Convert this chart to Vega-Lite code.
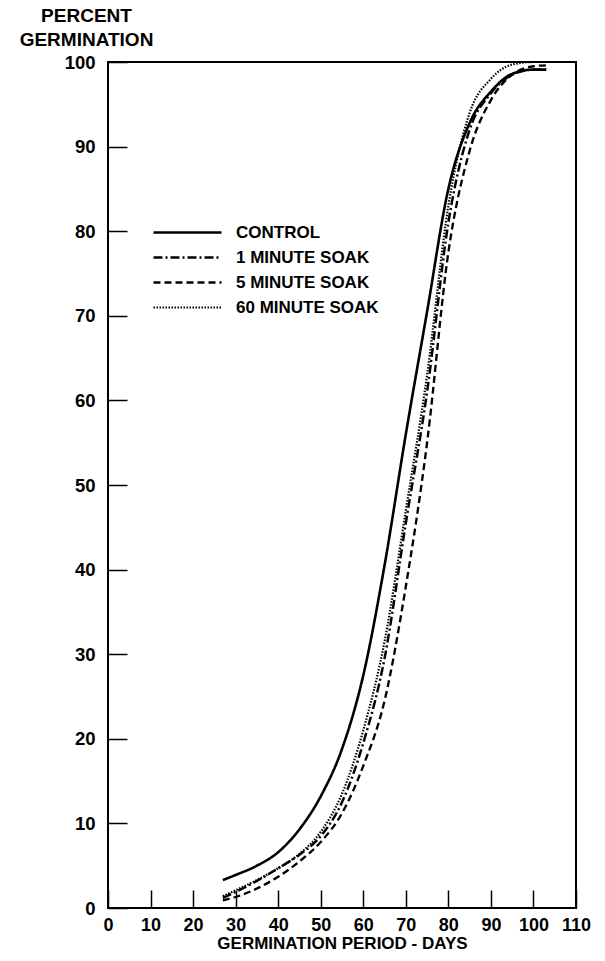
{
  "$schema": "https://vega.github.io/schema/vega-lite/v6.json",
  "autosize": "none",
  "width": 468,
  "height": 846,
  "padding": {"left": 108, "top": 62, "right": 29, "bottom": 53},
  "background": "white",
  "config": {
    "view": {"stroke": "black", "strokeWidth": 2},
    "font": "Liberation Sans",
    "axis": {"labelFont": "Liberation Sans", "labelFontWeight": "bold", "labelColor": "black", "titleColor": "black", "titleFont": "Liberation Sans", "titleFontWeight": "bold", "grid": false, "domain": false, "tickColor": "black", "tickWidth": 1.5, "labelOverlap": false, "labelFlush": false},
    "legend": {"labelFont": "Liberation Sans", "labelFontWeight": "bold", "labelColor": "black"}
  },
  "data": {"values": [
    {"treatment": "CONTROL", "day": 27, "pct": 3.3},
    {"treatment": "CONTROL", "day": 30, "pct": 3.9},
    {"treatment": "CONTROL", "day": 35, "pct": 5.0},
    {"treatment": "CONTROL", "day": 40, "pct": 6.6},
    {"treatment": "CONTROL", "day": 45, "pct": 9.3},
    {"treatment": "CONTROL", "day": 50, "pct": 13.2},
    {"treatment": "CONTROL", "day": 55, "pct": 18.8},
    {"treatment": "CONTROL", "day": 60, "pct": 27.5},
    {"treatment": "CONTROL", "day": 65, "pct": 40.5},
    {"treatment": "CONTROL", "day": 70, "pct": 56},
    {"treatment": "CONTROL", "day": 75, "pct": 70.5},
    {"treatment": "CONTROL", "day": 80, "pct": 85},
    {"treatment": "CONTROL", "day": 85, "pct": 92.8},
    {"treatment": "CONTROL", "day": 90, "pct": 96.5},
    {"treatment": "CONTROL", "day": 95, "pct": 98.6},
    {"treatment": "CONTROL", "day": 100, "pct": 99.1},
    {"treatment": "CONTROL", "day": 103, "pct": 99.1},
    {"treatment": "1 MINUTE SOAK", "day": 27, "pct": 1.2},
    {"treatment": "1 MINUTE SOAK", "day": 30, "pct": 1.9},
    {"treatment": "1 MINUTE SOAK", "day": 35, "pct": 3.2},
    {"treatment": "1 MINUTE SOAK", "day": 40, "pct": 4.7},
    {"treatment": "1 MINUTE SOAK", "day": 45, "pct": 6.3},
    {"treatment": "1 MINUTE SOAK", "day": 50, "pct": 8.5},
    {"treatment": "1 MINUTE SOAK", "day": 55, "pct": 12.5},
    {"treatment": "1 MINUTE SOAK", "day": 60, "pct": 19.5},
    {"treatment": "1 MINUTE SOAK", "day": 65, "pct": 29.5},
    {"treatment": "1 MINUTE SOAK", "day": 70, "pct": 45.5},
    {"treatment": "1 MINUTE SOAK", "day": 75, "pct": 61},
    {"treatment": "1 MINUTE SOAK", "day": 80, "pct": 81},
    {"treatment": "1 MINUTE SOAK", "day": 85, "pct": 92},
    {"treatment": "1 MINUTE SOAK", "day": 90, "pct": 96.3},
    {"treatment": "1 MINUTE SOAK", "day": 95, "pct": 98.5},
    {"treatment": "1 MINUTE SOAK", "day": 100, "pct": 99.1},
    {"treatment": "1 MINUTE SOAK", "day": 103, "pct": 99.1},
    {"treatment": "5 MINUTE SOAK", "day": 27, "pct": 0.9},
    {"treatment": "5 MINUTE SOAK", "day": 30, "pct": 1.3},
    {"treatment": "5 MINUTE SOAK", "day": 35, "pct": 2.3},
    {"treatment": "5 MINUTE SOAK", "day": 40, "pct": 3.7},
    {"treatment": "5 MINUTE SOAK", "day": 45, "pct": 5.5},
    {"treatment": "5 MINUTE SOAK", "day": 50, "pct": 7.8},
    {"treatment": "5 MINUTE SOAK", "day": 55, "pct": 11.2},
    {"treatment": "5 MINUTE SOAK", "day": 60, "pct": 16.8},
    {"treatment": "5 MINUTE SOAK", "day": 65, "pct": 24.5},
    {"treatment": "5 MINUTE SOAK", "day": 70, "pct": 38},
    {"treatment": "5 MINUTE SOAK", "day": 75, "pct": 55},
    {"treatment": "5 MINUTE SOAK", "day": 80, "pct": 77.5},
    {"treatment": "5 MINUTE SOAK", "day": 85, "pct": 89.5},
    {"treatment": "5 MINUTE SOAK", "day": 90, "pct": 95.5},
    {"treatment": "5 MINUTE SOAK", "day": 95, "pct": 98.5},
    {"treatment": "5 MINUTE SOAK", "day": 100, "pct": 99.5},
    {"treatment": "5 MINUTE SOAK", "day": 103, "pct": 99.6},
    {"treatment": "60 MINUTE SOAK", "day": 27, "pct": 1.4},
    {"treatment": "60 MINUTE SOAK", "day": 30, "pct": 2.1},
    {"treatment": "60 MINUTE SOAK", "day": 35, "pct": 3.3},
    {"treatment": "60 MINUTE SOAK", "day": 40, "pct": 4.7},
    {"treatment": "60 MINUTE SOAK", "day": 45, "pct": 6.4},
    {"treatment": "60 MINUTE SOAK", "day": 50, "pct": 9.0},
    {"treatment": "60 MINUTE SOAK", "day": 55, "pct": 13.5},
    {"treatment": "60 MINUTE SOAK", "day": 60, "pct": 21},
    {"treatment": "60 MINUTE SOAK", "day": 65, "pct": 31.5},
    {"treatment": "60 MINUTE SOAK", "day": 70, "pct": 47},
    {"treatment": "60 MINUTE SOAK", "day": 75, "pct": 63},
    {"treatment": "60 MINUTE SOAK", "day": 80, "pct": 83},
    {"treatment": "60 MINUTE SOAK", "day": 85, "pct": 94},
    {"treatment": "60 MINUTE SOAK", "day": 90, "pct": 98},
    {"treatment": "60 MINUTE SOAK", "day": 95, "pct": 99.7},
    {"treatment": "60 MINUTE SOAK", "day": 100, "pct": 100},
    {"treatment": "60 MINUTE SOAK", "day": 103, "pct": 100}
  ]},
  "mark": {"type": "line", "interpolate": "monotone", "color": "black", "clip": true},
  "encoding": {
    "x": {
      "field": "day", "type": "quantitative",
      "scale": {"domain": [0, 110], "nice": false, "zero": false},
      "axis": {"values": [0, 10, 20, 30, 40, 50, 60, 70, 80, 90, 100, 110], "tickSize": -18, "labelPadding": 26, "labelFontSize": 18, "title": "GERMINATION PERIOD - DAYS", "titleFontSize": 17, "titlePadding": 1}
    },
    "y": {
      "field": "pct", "type": "quantitative",
      "scale": {"domain": [0, 100], "nice": false},
      "axis": {"values": [0, 10, 20, 30, 40, 50, 60, 70, 80, 90, 100], "tickSize": -19, "labelPadding": 32, "labelFontSize": 18.5, "title": ["PERCENT", "GERMINATION"], "titleFontSize": 19, "titleAngle": 0, "titleAlign": "center", "titleBaseline": "top", "titleX": -22, "titleY": -56, "titleLineHeight": 24}
    },
    "strokeDash": {
      "field": "treatment", "type": "nominal",
      "scale": {"domain": ["CONTROL", "1 MINUTE SOAK", "5 MINUTE SOAK", "60 MINUTE SOAK"], "range": [[1, 0], [9, 3, 2, 3], [7, 4], [1.5, 1.5]]},
      "legend": {"title": null, "orient": "none", "legendX": 71, "legendY": 162, "symbolType": "M-5,0H5", "symbolSize": 185, "symbolStrokeWidth": 2, "symbolStrokeColor": "black", "labelFontSize": 17, "rowPadding": 7, "labelOffset": 40}
    },
    "strokeWidth": {
      "field": "treatment", "type": "nominal",
      "scale": {"domain": ["CONTROL", "1 MINUTE SOAK", "5 MINUTE SOAK", "60 MINUTE SOAK"], "range": [2.6, 2.2, 2.2, 1.3]},
      "legend": null
    }
  }
}
